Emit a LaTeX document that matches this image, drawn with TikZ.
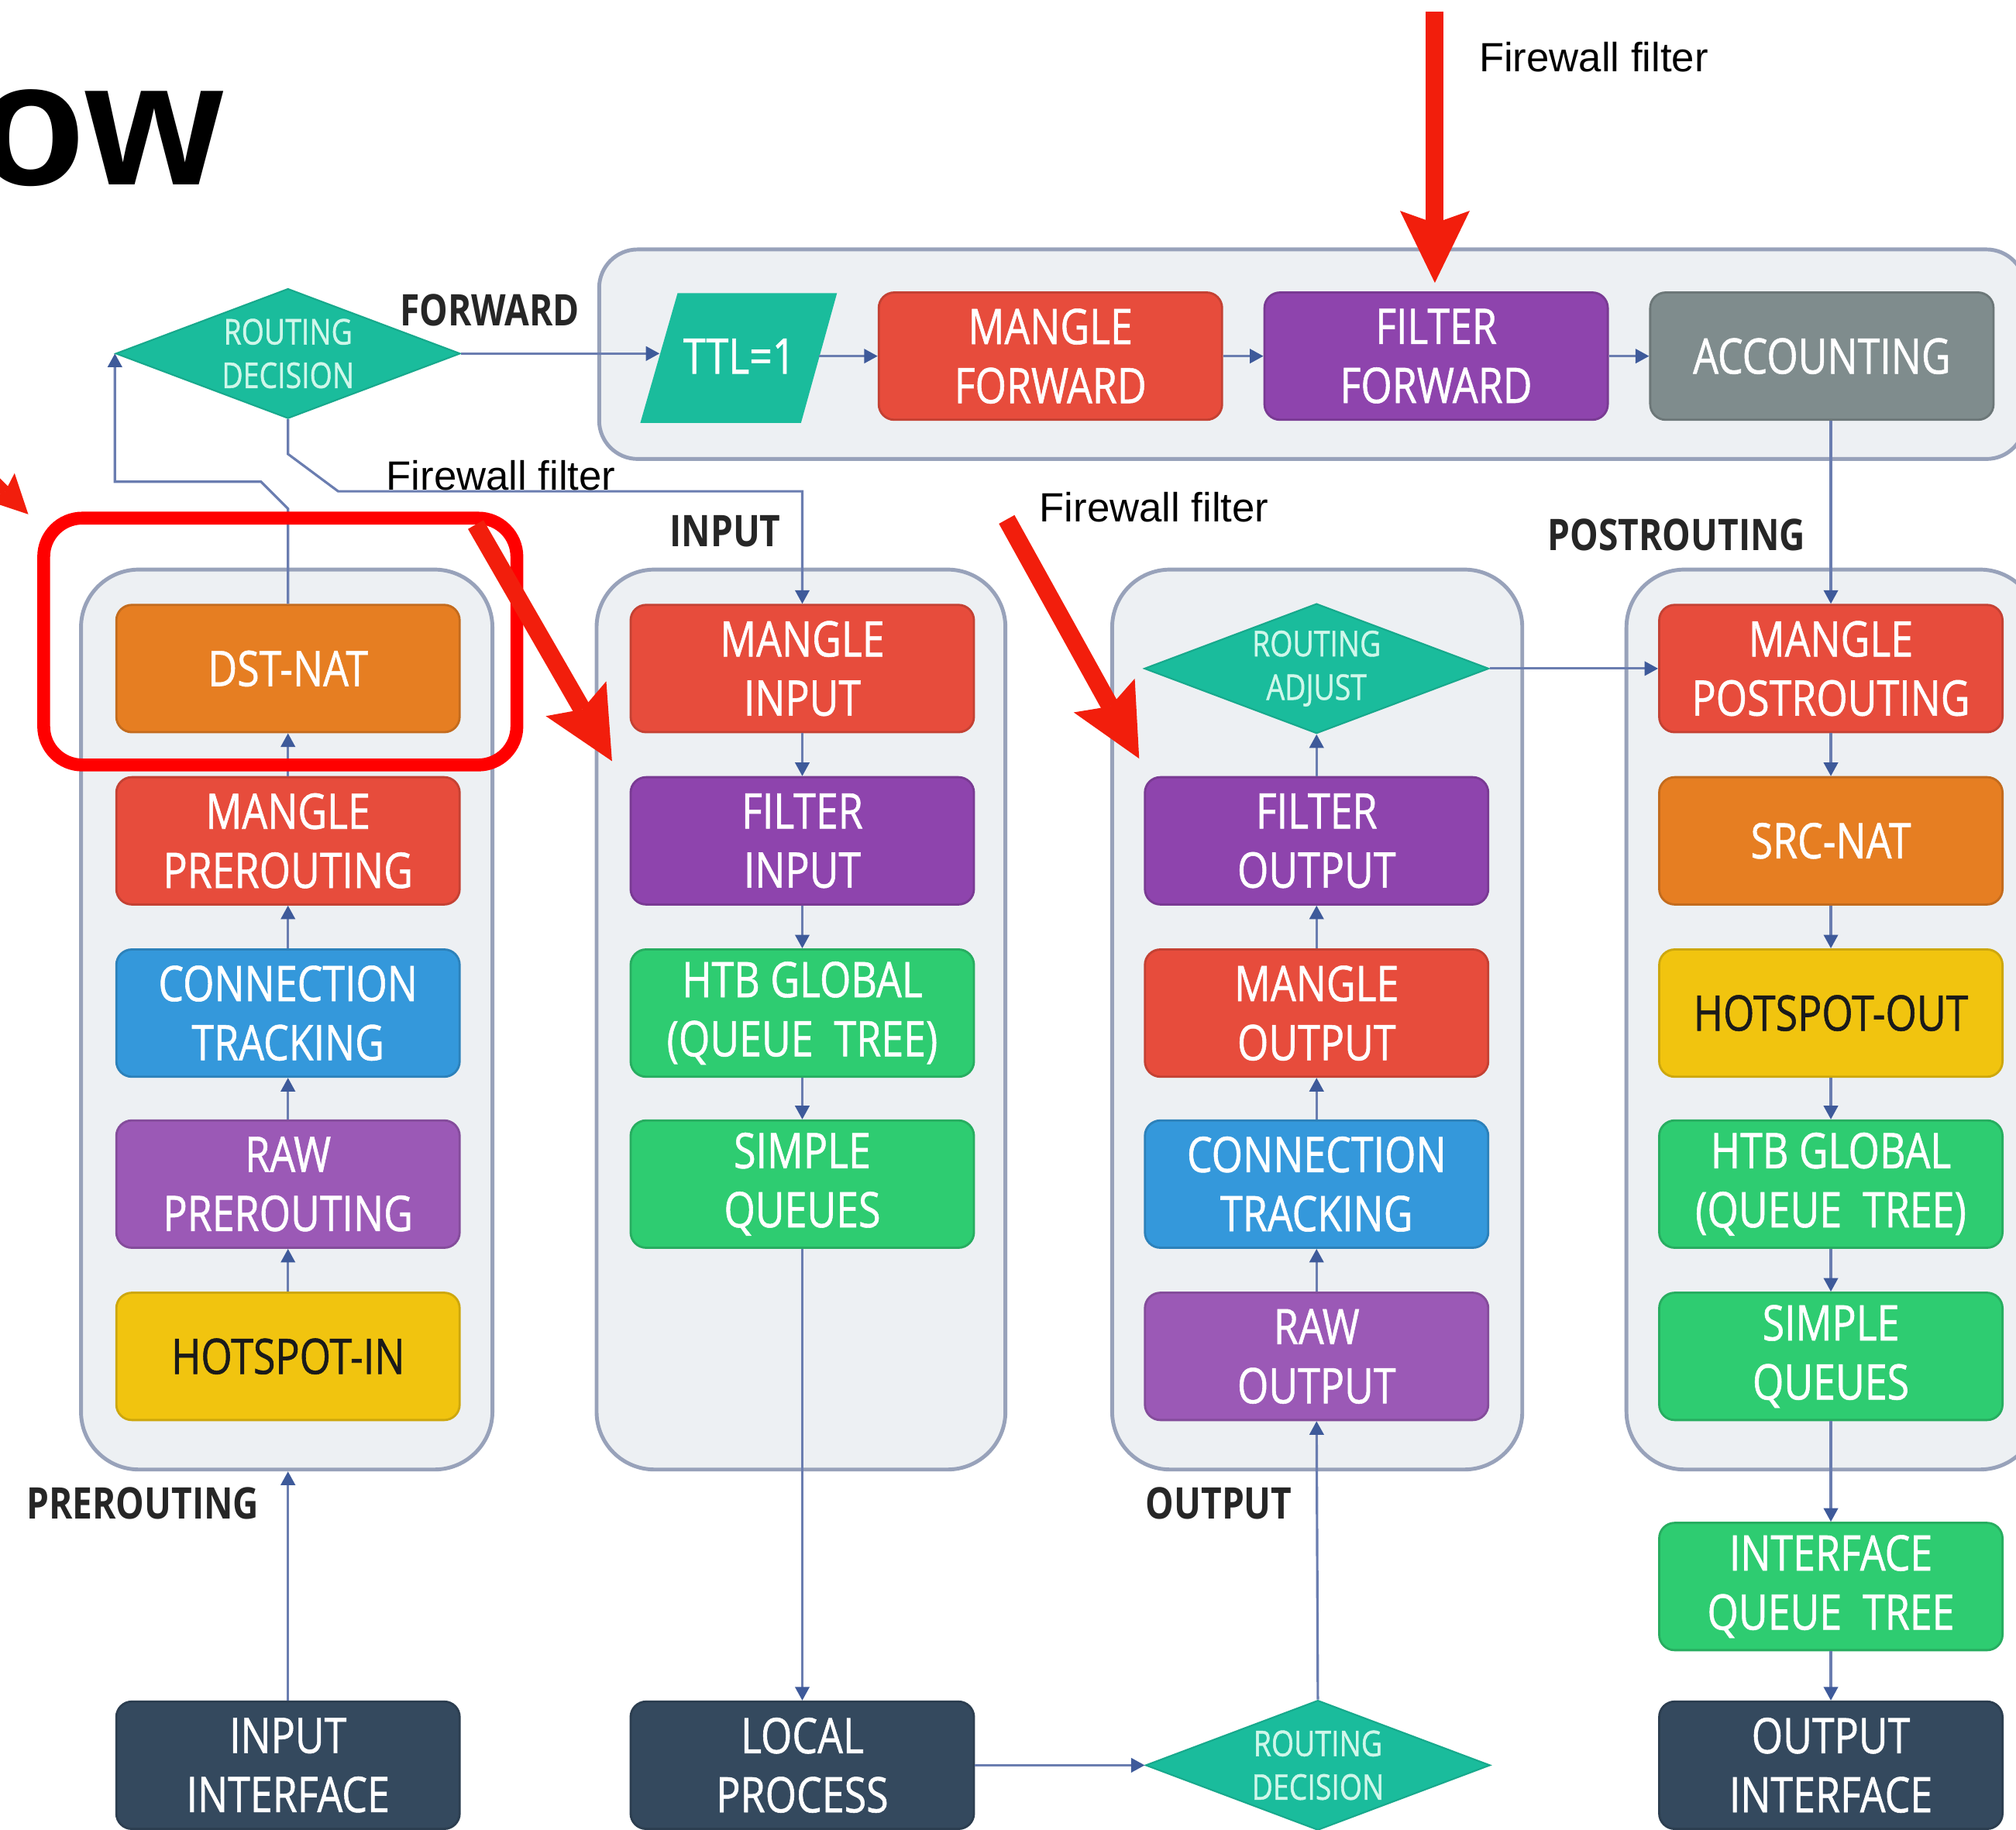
\documentclass[tikz,border=0pt]{standalone}
\usepackage{fontspec}
\usetikzlibrary{arrows.meta,shapes.geometric,calc}
\newfontfamily\boxfont[FakeStretch=0.82,FakeBold=0.9]{Open Sans}
\newfontfamily\labfont[FakeStretch=0.82]{Open Sans}
\newfontfamily\arialfont{Liberation Sans}
\newlength\dpx
\setlength\dpx{0.16594mm}
\definecolor{cred}{HTML}{E74C3C}
\definecolor{corange}{HTML}{E67E22}
\definecolor{cpurple}{HTML}{8E44AD}
\definecolor{cpurpleb}{HTML}{9B59B6}
\definecolor{cblue}{HTML}{3498DB}
\definecolor{cgreen}{HTML}{2ECC71}
\definecolor{cyellow}{HTML}{F1C40F}
\definecolor{cgray}{HTML}{7F8C8D}
\definecolor{cnavy}{HTML}{34495E}
\definecolor{cteal}{HTML}{1ABC9C}
\definecolor{cdtext}{HTML}{CFF7EA}
\definecolor{ccont}{HTML}{EDF0F3}
\definecolor{ccontb}{HTML}{98A2BA}
\definecolor{clin}{HTML}{6A7DB0}
\definecolor{carr}{HTML}{3E5A9A}
\definecolor{cfred}{HTML}{F21E0C}
\definecolor{chl}{HTML}{FF0000}
\definecolor{cdark}{HTML}{1A1A1A}
\begin{document}
\begin{tikzpicture}[x=\dpx,y=-\dpx,
  box/.style={rounded corners=12\dpx, minimum width=267\dpx, minimum height=99\dpx,
    inner sep=0pt, align=center, text=white, line width=0.8pt,
    font=\boxfont\fontsize{18}{21.7}\selectfont},
  rbox/.style={box, fill=cred, draw=cred!85!black},
  obox/.style={box, fill=corange, draw=corange!85!black},
  pbox/.style={box, fill=cpurple, draw=cpurple!85!black},
  qbox/.style={box, fill=cpurpleb, draw=cpurpleb!85!black},
  bbox/.style={box, fill=cblue, draw=cblue!85!black},
  gbox/.style={box, fill=cgreen, draw=cgreen!85!black},
  ybox/.style={box, fill=cyellow, draw=cyellow!85!black, text=cdark},
  grbox/.style={box, fill=cgray, draw=cgray!85!black},
  nbox/.style={box, fill=cnavy, draw=cnavy!85!black},
  diam/.style={diamond, fill=cteal, draw=cteal!90!black, line width=0.6pt,
    minimum width=268\dpx, minimum height=101\dpx, inner sep=0pt},
  dtext/.style={text=cdtext, align=center, inner sep=0pt,
    font=\boxfont\fontsize{13}{16}\selectfont},
  cont/.style={draw=ccontb, fill=ccont, line width=1.4pt, rounded corners=45\dpx,
    inner sep=0pt},
  lab/.style={font=\labfont\bfseries\fontsize{16}{19}\selectfont, text=black!85, inner sep=0pt},
  fw/.style={font=\arialfont\fontsize{15}{18}\selectfont, inner sep=0pt, anchor=base west},
  conn/.style={draw=clin, line width=0.9pt, -{Triangle[length=5pt,width=5.2pt,color=carr]}},
  redarr/.style={draw=cfred, line width=2.3mm,
    -{Stealth[length=9.3mm,width=9mm,inset=1.6mm,line width=0pt,color=cfred]}},
  redarrs/.style={draw=cfred, line width=1.4mm,
    -{Stealth[length=5mm,width=5mm,inset=0.8mm,line width=0pt,color=cfred]}}
]
\useasboundingbox (0,0) rectangle (1568,1423);
\fill[white] (0,0) rectangle (1568,1423);

% containers
\node[cont, rounded corners=30\dpx, minimum width=1109\dpx, minimum height=163\dpx] (fwd) at (1020.5,275.5) {};
\node[cont, minimum width=320\dpx, minimum height=700\dpx] (c1) at (223,793) {};
\node[cont, minimum width=318\dpx, minimum height=700\dpx] (c2) at (623,793) {};
\node[cont, minimum width=319\dpx, minimum height=700\dpx] (c3) at (1024.5,793) {};
\node[cont, minimum width=320\dpx, minimum height=700\dpx] (c4) at (1425,793) {};

% forward row
\fill[cteal] (527,228) -- (651,228) -- (623,329) -- (498,329) -- cycle;
\node[text=white, font=\boxfont\fontsize{18}{21.7}\selectfont, inner sep=0pt] (ttl) at (575,277) {TTL=1};
\coordinate (ttlL) at (513,275);
\coordinate (ttlR) at (637,277);
\node[rbox] (mf) at (817,277) {MANGLE\\FORWARD};
\node[pbox] (ff) at (1117,277) {FILTER\\FORWARD};
\node[grbox] (acc) at (1417,277) {ACCOUNTING};

% top routing decision
\node[diam] (rd) at (224,275) {};
\node[dtext] (rdt) at (224,275) {ROUTING\\DECISION};

% column 1
\node[obox] (dnat) at (224,520) {DST-NAT};
\node[rbox] (mpre) at (224,654) {MANGLE\\PREROUTING};
\node[bbox] (ctp) at (224,788) {CONNECTION\\TRACKING};
\node[qbox] (rawp) at (224,921) {RAW\\PREROUTING};
\node[ybox] (hin) at (224,1055) {HOTSPOT-IN};

% column 2
\node[rbox] (mi) at (624,520) {MANGLE\\INPUT};
\node[pbox] (fi) at (624,654) {FILTER\\INPUT};
\node[gbox] (htba) at (624,788) {HTB GLOBAL\\(QUEUE~~TREE)};
\node[gbox] (sqa) at (624,921) {SIMPLE\\QUEUES};

% column 3
\node[diam] (ra) at (1024,520) {};
\node[dtext] (rat) at (1024,520) {ROUTING\\ADJUST};
\node[pbox] (fo) at (1024,654) {FILTER\\OUTPUT};
\node[rbox] (mo) at (1024,788) {MANGLE\\OUTPUT};
\node[bbox] (cto) at (1024,921) {CONNECTION\\TRACKING};
\node[qbox] (rawo) at (1024,1055) {RAW\\OUTPUT};

% column 4
\node[rbox] (mpost) at (1424,520) {MANGLE\\POSTROUTING};
\node[obox] (snat) at (1424,654) {SRC-NAT};
\node[ybox] (hout) at (1424,788) {HOTSPOT-OUT};
\node[gbox] (htbb) at (1424,921) {HTB GLOBAL\\(QUEUE~~TREE)};
\node[gbox] (sqb) at (1424,1055) {SIMPLE\\QUEUES};
\node[gbox] (iqt) at (1424,1234) {INTERFACE\\QUEUE~~TREE};
\node[nbox] (oi) at (1424,1373) {OUTPUT\\INTERFACE};

% bottom row
\node[nbox] (ii) at (224,1373) {INPUT\\INTERFACE};
\node[nbox] (lp) at (624,1373) {LOCAL\\PROCESS};
\node[diam] (rdb) at (1025,1373) {};
\node[dtext] (rdbt) at (1025,1373) {ROUTING\\DECISION};

% labels
\node[lab] (lfwd) at (381,241) {FORWARD};
\node[lab] (linp) at (564,413) {INPUT};
\node[lab] (lpost) at (1304,416) {POSTROUTING};
\node[lab] (lpre) at (111,1169) {PREROUTING};
\node[lab] (lout) at (948,1169) {OUTPUT};

% connectors: forward
\draw[conn] (rd.east) -- (ttlL);
\draw[conn] (ttlR) -- (mf.west);
\draw[conn] (mf.east) -- (ff.west);
\draw[conn] (ff.east) -- (acc.west);
\draw[conn] (acc.south -| mpost.north) -- (mpost.north);
\draw[conn] (rd.south) -- ++(0,27) -- ++(39,29) -| (mi.north);
\draw[conn] (dnat.north) -- ++(0,-74) -- ++(-21,-21) -| (rd.west);

% column 1 (upwards)
\draw[conn] (ii.north) -- (ii.north |- c1.south);
\draw[conn] (hin.north) -- (rawp.south);
\draw[conn] (rawp.north) -- (ctp.south);
\draw[conn] (ctp.north) -- (mpre.south);
\draw[conn] (mpre.north) -- (dnat.south);

% column 2 (downwards)
\draw[conn] (mi.south) -- (fi.north);
\draw[conn] (fi.south) -- (htba.north);
\draw[conn] (htba.south) -- (sqa.north);
\draw[conn] (sqa.south) -- (lp.north);
\draw[conn] (lp.east) -- (rdb.west);

% column 3 (upwards)
\draw[conn] (rdb.north) -- (rawo.south);
\draw[conn] (rawo.north) -- (cto.south);
\draw[conn] (cto.north) -- (mo.south);
\draw[conn] (mo.north) -- (fo.south);
\draw[conn] (fo.north) -- (ra.south);
\draw[conn] (ra.east) -- (mpost.west);

% column 4 (downwards)
\draw[conn] (mpost.south) -- (snat.north);
\draw[conn] (snat.south) -- (hout.north);
\draw[conn] (hout.south) -- (htbb.north);
\draw[conn] (htbb.south) -- (sqb.north);
\draw[conn] (sqb.south) -- (iqt.north);
\draw[conn] (iqt.south) -- (oi.north);

% title fragment (cut at the left edge, as in the reference)
\node[font=\arialfont\bfseries\fontsize{65}{65}\selectfont, anchor=base east, inner sep=0pt] (ow) at (174,144) {ow};

% highlight and red arrows
\node[draw=chl, line width=10\dpx, rounded corners=30\dpx, minimum width=368\dpx, minimum height=192\dpx, inner sep=0pt] (hl) at (218,499) {};
\coordinate (ra1s) at (1116,9);
\coordinate (ra1e) at (1116,220);
\coordinate (ra2s) at (370,408);
\coordinate (ra2e) at (476,592);
\coordinate (ra3s) at (783,404);
\coordinate (ra3e) at (886,590);
\coordinate (ra0s) at (-60,318);
\coordinate (ra0e) at (22,400);
\draw[redarr] (ra1s) -- (ra1e);
\draw[redarr] (ra2s) -- (ra2e);
\draw[redarr] (ra3s) -- (ra3e);
\draw[redarrs] (ra0s) -- (ra0e);

% firewall filter texts
\node[fw] (fw1) at (1150,56) {Firewall filter};
\node[fw] (fw2) at (300,381) {Firewall filter};
\node[fw] (fw3) at (808,406) {Firewall filter};
\end{tikzpicture}
\end{document}
